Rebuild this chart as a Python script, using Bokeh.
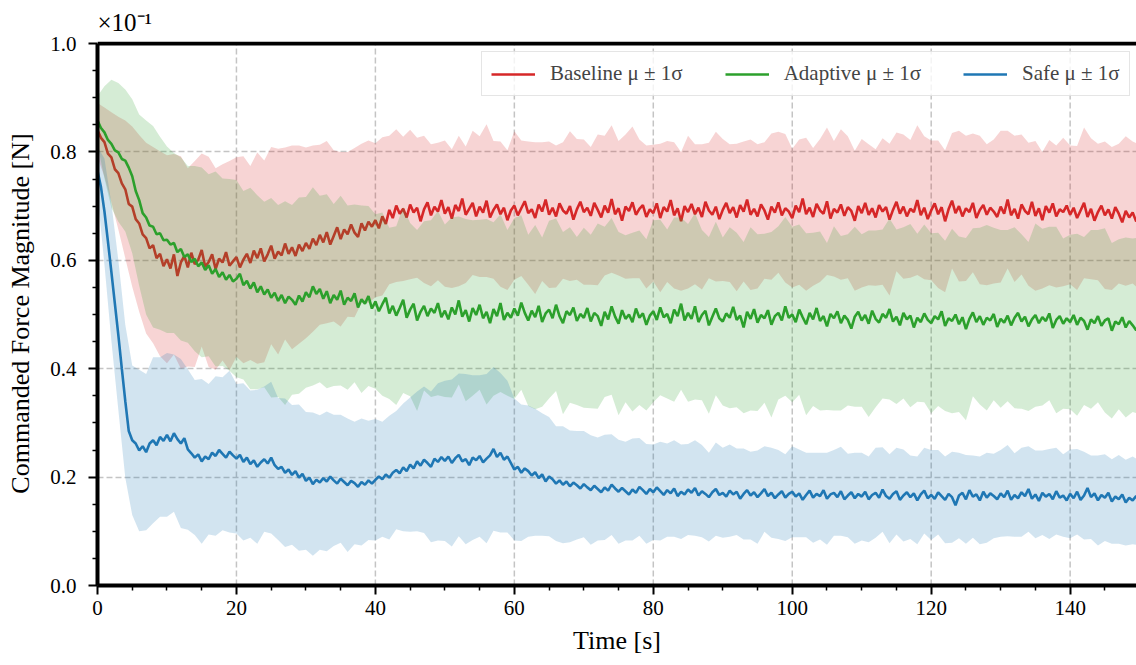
import numpy as np
from bokeh.plotting import figure
from bokeh.models import (Range1d, FixedTicker, Legend, LegendItem, Span, PrintfTickFormatter)
from bokeh.embed import file_html
from bokeh.resources import INLINE

# ---------------- data ----------------
# mean curves sampled every 0.5 s, 0 .. 150 s
time_mean = np.arange(301) * 0.5
# band (std) sampled every 1 s, 0 .. 150 s
time_band = np.arange(151) * 1.0

baseline_mean = [
    0.840, 0.826, 0.818, 0.797, 0.790, 0.768, 0.761, 0.742, 0.731, 0.704, 0.699, 0.676, 0.668, 0.648, 0.641, 0.622, 0.628, 0.604, 0.612, 0.589,
    0.602, 0.585, 0.611, 0.571, 0.596, 0.608, 0.587, 0.614, 0.593, 0.601, 0.619, 0.588, 0.597, 0.611, 0.584, 0.603, 0.596, 0.615, 0.590, 0.598,
    0.606, 0.587, 0.601, 0.612, 0.595, 0.618, 0.604, 0.622, 0.598, 0.611, 0.627, 0.603, 0.616, 0.609, 0.631, 0.612, 0.624, 0.608, 0.629, 0.617,
    0.632, 0.621, 0.640, 0.628, 0.647, 0.633, 0.652, 0.629, 0.645, 0.661, 0.639, 0.657, 0.648, 0.666, 0.651, 0.643, 0.668, 0.655, 0.671, 0.662,
    0.674, 0.659, 0.681, 0.667, 0.693, 0.678, 0.701, 0.686, 0.695, 0.679, 0.703, 0.688, 0.697, 0.672, 0.694, 0.707, 0.683, 0.699, 0.690, 0.711,
    0.686, 0.698, 0.677, 0.702, 0.691, 0.714, 0.684, 0.695, 0.706, 0.681, 0.699, 0.688, 0.710, 0.679, 0.693, 0.703, 0.685, 0.697, 0.674, 0.692,
    0.701, 0.683, 0.696, 0.709, 0.687, 0.694, 0.678, 0.703, 0.690, 0.712, 0.684, 0.697, 0.681, 0.705, 0.692, 0.686, 0.700, 0.675, 0.694, 0.708,
    0.689, 0.697, 0.682, 0.706, 0.693, 0.679, 0.701, 0.688, 0.713, 0.685, 0.696, 0.673, 0.699, 0.691, 0.707, 0.684, 0.695, 0.702, 0.680, 0.694,
    0.687, 0.705, 0.678, 0.698, 0.690, 0.711, 0.683, 0.696, 0.672, 0.700, 0.689, 0.704, 0.685, 0.697, 0.680, 0.708, 0.692, 0.684, 0.699, 0.676,
    0.693, 0.706, 0.687, 0.698, 0.679, 0.702, 0.690, 0.712, 0.684, 0.695, 0.681, 0.703, 0.692, 0.675, 0.699, 0.688, 0.707, 0.683, 0.696, 0.690,
    0.678, 0.701, 0.689, 0.714, 0.685, 0.697, 0.680, 0.704, 0.692, 0.686, 0.709, 0.677, 0.695, 0.688, 0.703, 0.682, 0.698, 0.691, 0.673, 0.700,
    0.687, 0.706, 0.684, 0.696, 0.679, 0.702, 0.690, 0.698, 0.675, 0.693, 0.708, 0.686, 0.699, 0.681, 0.695, 0.689, 0.711, 0.683, 0.697, 0.676,
    0.692, 0.705, 0.685, 0.698, 0.672, 0.694, 0.710, 0.687, 0.700, 0.681, 0.696, 0.689, 0.706, 0.678, 0.693, 0.702, 0.684, 0.697, 0.690, 0.680,
    0.699, 0.686, 0.712, 0.683, 0.695, 0.677, 0.703, 0.691, 0.685, 0.708, 0.682, 0.696, 0.674, 0.700, 0.688, 0.705, 0.681, 0.694, 0.689, 0.701,
    0.684, 0.697, 0.678, 0.692, 0.706, 0.680, 0.695, 0.673, 0.689, 0.701, 0.683, 0.694, 0.677, 0.698, 0.686, 0.670, 0.691, 0.679, 0.688, 0.672,
    0.680]

adaptive_mean = [
    0.858, 0.844, 0.836, 0.822, 0.815, 0.803, 0.799, 0.787, 0.784, 0.771, 0.755, 0.728, 0.711, 0.687, 0.679, 0.664, 0.662, 0.648, 0.650, 0.637,
    0.638, 0.629, 0.632, 0.615, 0.621, 0.606, 0.611, 0.597, 0.603, 0.589, 0.596, 0.582, 0.591, 0.575, 0.584, 0.569, 0.578, 0.564, 0.573, 0.561,
    0.566, 0.575, 0.554, 0.562, 0.548, 0.559, 0.541, 0.552, 0.537, 0.546, 0.531, 0.540, 0.525, 0.536, 0.521, 0.533, 0.527, 0.518, 0.535, 0.524,
    0.541, 0.532, 0.552, 0.538, 0.547, 0.529, 0.543, 0.521, 0.536, 0.527, 0.544, 0.518, 0.531, 0.525, 0.539, 0.513, 0.528, 0.520, 0.534, 0.511,
    0.524, 0.506, 0.519, 0.531, 0.502, 0.516, 0.498, 0.512, 0.527, 0.494, 0.509, 0.520, 0.489, 0.505, 0.516, 0.497, 0.511, 0.503, 0.521, 0.495,
    0.507, 0.491, 0.513, 0.500, 0.526, 0.496, 0.508, 0.487, 0.512, 0.499, 0.518, 0.493, 0.505, 0.484, 0.510, 0.497, 0.521, 0.490, 0.503, 0.494,
    0.511, 0.498, 0.522, 0.503, 0.489, 0.507, 0.495, 0.516, 0.486, 0.502, 0.509, 0.493, 0.518, 0.497, 0.484, 0.506, 0.499, 0.513, 0.488, 0.501,
    0.494, 0.512, 0.487, 0.503, 0.497, 0.479, 0.505, 0.491, 0.515, 0.496, 0.483, 0.508, 0.492, 0.500, 0.486, 0.511, 0.494, 0.502, 0.481, 0.498,
    0.506, 0.490, 0.513, 0.495, 0.501, 0.484, 0.509, 0.497, 0.520, 0.489, 0.503, 0.492, 0.515, 0.486, 0.499, 0.507, 0.480, 0.496, 0.511, 0.493,
    0.487, 0.502, 0.494, 0.514, 0.490, 0.498, 0.476, 0.505, 0.492, 0.510, 0.485, 0.499, 0.493, 0.508, 0.481, 0.497, 0.503, 0.489, 0.515, 0.494,
    0.500, 0.486, 0.509, 0.495, 0.482, 0.503, 0.491, 0.512, 0.488, 0.497, 0.478, 0.501, 0.493, 0.506, 0.484, 0.498, 0.490, 0.474, 0.496, 0.505,
    0.489, 0.499, 0.483, 0.507, 0.492, 0.485, 0.501, 0.494, 0.510, 0.487, 0.496, 0.480, 0.503, 0.491, 0.498, 0.476, 0.494, 0.486, 0.502, 0.490,
    0.484, 0.497, 0.491, 0.506, 0.479, 0.493, 0.488, 0.500, 0.482, 0.495, 0.473, 0.492, 0.504, 0.486, 0.497, 0.481, 0.494, 0.489, 0.501, 0.477,
    0.492, 0.485, 0.498, 0.480, 0.494, 0.503, 0.487, 0.496, 0.478, 0.491, 0.499, 0.484, 0.495, 0.488, 0.502, 0.475, 0.490, 0.497, 0.483, 0.493,
    0.486, 0.499, 0.481, 0.494, 0.488, 0.472, 0.491, 0.484, 0.497, 0.479, 0.489, 0.493, 0.470, 0.487, 0.482, 0.495, 0.476, 0.488, 0.480, 0.471,
    0.479]

safe_mean = [
    0.765, 0.735, 0.690, 0.635, 0.578, 0.520, 0.462, 0.400, 0.340, 0.285, 0.268, 0.262, 0.249, 0.257, 0.246, 0.262, 0.268, 0.259, 0.274, 0.267,
    0.278, 0.266, 0.281, 0.270, 0.262, 0.272, 0.251, 0.244, 0.236, 0.242, 0.229, 0.238, 0.233, 0.245, 0.239, 0.250, 0.243, 0.236, 0.247, 0.240,
    0.234, 0.241, 0.228, 0.236, 0.224, 0.231, 0.219, 0.227, 0.233, 0.225, 0.236, 0.222, 0.215, 0.219, 0.208, 0.214, 0.204, 0.211, 0.199, 0.206,
    0.193, 0.199, 0.187, 0.195, 0.190, 0.198, 0.192, 0.201, 0.194, 0.188, 0.197, 0.191, 0.185, 0.193, 0.189, 0.182, 0.191, 0.186, 0.194, 0.188,
    0.195, 0.201, 0.196, 0.205, 0.199, 0.208, 0.213, 0.207, 0.218, 0.211, 0.223, 0.216, 0.229, 0.221, 0.232, 0.226, 0.219, 0.234, 0.228, 0.237,
    0.230, 0.238, 0.226, 0.235, 0.241, 0.229, 0.233, 0.222, 0.236, 0.231, 0.239, 0.227, 0.234, 0.240, 0.252, 0.237, 0.245, 0.232, 0.238, 0.226,
    0.214, 0.219, 0.208, 0.216, 0.211, 0.203, 0.209, 0.198, 0.205, 0.192, 0.201, 0.196, 0.188, 0.194, 0.186, 0.192, 0.183, 0.190, 0.185, 0.179,
    0.187, 0.181, 0.176, 0.184, 0.178, 0.172, 0.181, 0.175, 0.186, 0.179, 0.173, 0.180, 0.174, 0.168, 0.177, 0.171, 0.182, 0.176, 0.169, 0.178,
    0.172, 0.181, 0.174, 0.167, 0.176, 0.170, 0.179, 0.165, 0.173, 0.168, 0.177, 0.171, 0.180, 0.166, 0.174, 0.169, 0.163, 0.172, 0.178, 0.167,
    0.171, 0.164, 0.175, 0.168, 0.173, 0.160, 0.169, 0.176, 0.166, 0.172, 0.163, 0.170, 0.178, 0.165, 0.171, 0.161, 0.168, 0.174, 0.162, 0.169,
    0.173, 0.164, 0.170, 0.158, 0.167, 0.175, 0.162, 0.169, 0.165, 0.176, 0.160, 0.168, 0.171, 0.163, 0.174, 0.159, 0.166, 0.172, 0.161, 0.169,
    0.164, 0.173, 0.159, 0.167, 0.171, 0.162, 0.177, 0.165, 0.160, 0.169, 0.174, 0.158, 0.166, 0.172, 0.163, 0.170, 0.157, 0.168, 0.175, 0.161,
    0.167, 0.160, 0.172, 0.165, 0.158, 0.169, 0.163, 0.148, 0.166, 0.171, 0.159, 0.176, 0.164, 0.168, 0.157, 0.173, 0.162, 0.170, 0.165, 0.159,
    0.170, 0.163, 0.175, 0.158, 0.167, 0.161, 0.172, 0.165, 0.178, 0.160, 0.168, 0.156, 0.171, 0.164, 0.169, 0.159, 0.174, 0.162, 0.166, 0.157,
    0.169, 0.161, 0.173, 0.158, 0.166, 0.180, 0.163, 0.170, 0.157, 0.167, 0.162, 0.171, 0.155, 0.164, 0.159, 0.168, 0.153, 0.162, 0.157, 0.165,
    0.152]

baseline_std = [
    0.050, 0.064, 0.083, 0.104, 0.127, 0.148, 0.163, 0.176, 0.181, 0.189,
    0.192, 0.185, 0.196, 0.183, 0.190, 0.178, 0.194, 0.186, 0.181, 0.193,
    0.184, 0.191, 0.179, 0.195, 0.186, 0.182, 0.190, 0.177, 0.188, 0.183,
    0.176, 0.172, 0.166, 0.168, 0.158, 0.161, 0.152, 0.156, 0.147, 0.150,
    0.142, 0.146, 0.137, 0.141, 0.133, 0.138, 0.129, 0.136, 0.131, 0.127,
    0.135, 0.128, 0.139, 0.126, 0.133, 0.130, 0.141, 0.127, 0.134, 0.129,
    0.137, 0.125, 0.132, 0.140, 0.128, 0.135, 0.131, 0.126, 0.138, 0.130,
    0.134, 0.127, 0.139, 0.129, 0.136, 0.124, 0.133, 0.140, 0.128, 0.132,
    0.126, 0.137, 0.130, 0.135, 0.128, 0.141, 0.129, 0.134, 0.125, 0.138,
    0.131, 0.127, 0.136, 0.129, 0.139, 0.133, 0.126, 0.135, 0.130, 0.137,
    0.128, 0.134, 0.141, 0.127, 0.132, 0.136, 0.125, 0.139, 0.131, 0.129,
    0.137, 0.130, 0.126, 0.135, 0.140, 0.128, 0.133, 0.127, 0.138, 0.132,
    0.129, 0.136, 0.131, 0.125, 0.139, 0.134, 0.128, 0.137, 0.130, 0.133,
    0.140, 0.127, 0.135, 0.129, 0.132, 0.138, 0.126, 0.134, 0.131, 0.137,
    0.128, 0.133, 0.139, 0.130, 0.126, 0.136, 0.132, 0.129, 0.138, 0.131,
    0.134]

adaptive_std = [
    0.045, 0.085, 0.118, 0.128, 0.131, 0.142, 0.158, 0.179, 0.186, 0.178,
    0.172, 0.166, 0.169, 0.163, 0.171, 0.175, 0.168, 0.180, 0.173, 0.177,
    0.182, 0.174, 0.186, 0.179, 0.171, 0.184, 0.177, 0.188, 0.175, 0.181,
    0.176, 0.183, 0.172, 0.179, 0.168, 0.175, 0.170, 0.164, 0.173, 0.166,
    0.161, 0.169, 0.158, 0.165, 0.172, 0.160, 0.167, 0.156, 0.163, 0.170,
    0.159, 0.166, 0.155, 0.168, 0.162, 0.157, 0.171, 0.160, 0.164, 0.153,
    0.167, 0.161, 0.158, 0.170, 0.156, 0.164, 0.159, 0.168, 0.162, 0.155,
    0.166, 0.160, 0.171, 0.157, 0.163, 0.169, 0.154, 0.165, 0.161, 0.158,
    0.168, 0.162, 0.156, 0.170, 0.159, 0.164, 0.172, 0.157, 0.163, 0.160,
    0.155, 0.167, 0.161, 0.158, 0.169, 0.163, 0.156, 0.171, 0.160, 0.165,
    0.162, 0.157, 0.168, 0.160, 0.165, 0.154, 0.170, 0.161, 0.158, 0.166,
    0.159, 0.172, 0.163, 0.156, 0.167, 0.161, 0.158, 0.169, 0.155, 0.164,
    0.166, 0.160, 0.157, 0.170, 0.162, 0.168, 0.155, 0.163, 0.171, 0.159,
    0.164, 0.158, 0.167, 0.161, 0.156, 0.169, 0.163, 0.160, 0.172, 0.157,
    0.161, 0.168, 0.155, 0.165, 0.159, 0.170, 0.162, 0.157, 0.166, 0.160,
    0.163]

safe_std = [
    0.045, 0.098, 0.127, 0.138, 0.141, 0.138, 0.149, 0.144, 0.153, 0.147,
    0.151, 0.145, 0.156, 0.148, 0.143, 0.152, 0.139, 0.147, 0.141, 0.149,
    0.138, 0.145, 0.136, 0.142, 0.134, 0.140, 0.131, 0.137, 0.129, 0.135,
    0.127, 0.132, 0.124, 0.129, 0.121, 0.118, 0.123, 0.113, 0.117, 0.110,
    0.112, 0.106, 0.114, 0.109, 0.118, 0.124, 0.129, 0.135, 0.139, 0.145,
    0.148, 0.154, 0.150, 0.157, 0.152, 0.149, 0.156, 0.151, 0.147, 0.140,
    0.131, 0.126, 0.121, 0.117, 0.113, 0.110, 0.106, 0.108, 0.103, 0.100,
    0.098, 0.101, 0.095, 0.097, 0.093, 0.096, 0.091, 0.094, 0.090, 0.092,
    0.088, 0.091, 0.086, 0.089, 0.087, 0.084, 0.088, 0.085, 0.082, 0.086,
    0.083, 0.085, 0.080, 0.084, 0.081, 0.086, 0.079, 0.083, 0.082, 0.080,
    0.084, 0.081, 0.078, 0.083, 0.080, 0.085, 0.079, 0.082, 0.077, 0.084,
    0.081, 0.079, 0.083, 0.078, 0.082, 0.080, 0.085, 0.077, 0.081, 0.079,
    0.083, 0.078, 0.080, 0.084, 0.079, 0.082, 0.076, 0.081, 0.083, 0.078,
    0.080, 0.084, 0.077, 0.082, 0.079, 0.081, 0.078, 0.083, 0.080, 0.076,
    0.082, 0.079, 0.081, 0.077, 0.083, 0.080, 0.078, 0.082, 0.079, 0.081,
    0.078]

series_labels = ["Baseline \u03bc \u00b1 1\u03c3", "Adaptive \u03bc \u00b1 1\u03c3", "Safe \u03bc \u00b1 1\u03c3"]
series_colors = ["#d62728", "#2ca02c", "#1f77b4"]

y_ticks = [0.0, 0.2, 0.4, 0.6, 0.8, 1.0]
y_minor = [0.05, 0.1, 0.15, 0.25, 0.3, 0.35, 0.45, 0.5, 0.55, 0.65, 0.7, 0.75, 0.85, 0.9, 0.95]
x_ticks = [0, 20, 40, 60, 80, 100, 120, 140]
x_minor = [5, 10, 15, 25, 30, 35, 45, 50, 55, 65, 70, 75, 85, 90, 95, 105, 110, 115, 125, 130, 135, 145]
y_min, y_max = 0.0, 1.0
offset_text = "\u00d710\u207b\u00b9"

FONT = "Liberation Serif"

# ---------------- figure ----------------
p = figure(width=1136, height=665, output_backend="svg", toolbar_location=None,
           title=offset_text,
           x_range=Range1d(0, 149.55), y_range=Range1d(0, 1.0037),
           min_border_left=97, min_border_right=0, min_border_top=41, min_border_bottom=80)
p.outline_line_color = None
p.background_fill_color = "white"
p.border_fill_color = "white"

# offset text (x10^-1) as a left aligned title above the axes
p.title.align = "left"
p.title.offset = 0
p.title.standoff = 12
p.title.text_font = FONT
p.title.text_font_size = "25px"
p.title.text_font_style = "normal"
p.title.text_color = "black"

# vertical dashed grid lines (only inside the axes box)
p.segment(x0=x_ticks[1:], y0=[y_min] * (len(x_ticks) - 1), x1=x_ticks[1:], y1=[y_max] * (len(x_ticks) - 1),
          line_color="#c4c4c4", line_width=1.5, line_dash="6 3")

line_renderers = []
for mean, std, col in [(baseline_mean, baseline_std, series_colors[0]),
                       (adaptive_mean, adaptive_std, series_colors[1]),
                       (safe_mean, safe_std, series_colors[2])]:
    m = np.array(mean)
    s = np.array(std)
    m_band = m[::2]
    p.varea(x=time_band, y1=m_band - s, y2=m_band + s, fill_color=col, fill_alpha=0.2)
    r = p.line(time_mean, m, line_color=col, line_width=2.6)
    line_renderers.append(r)

# axes
xa = p.xaxis[0]
ya = p.yaxis[0]
xa.ticker = FixedTicker(ticks=x_ticks, minor_ticks=x_minor)
ya.ticker = FixedTicker(ticks=y_ticks, minor_ticks=y_minor)
ya.bounds = (y_min, y_max)
ya.formatter = PrintfTickFormatter(format="%.1f")
for ax in (xa, ya):
    ax.axis_line_width = 4
    ax.axis_line_color = "black"
    ax.major_tick_out = 9
    ax.major_tick_in = 0
    ax.minor_tick_out = 5
    ax.minor_tick_in = 0
    ax.major_tick_line_width = 2
    ax.minor_tick_line_width = 1.5
    ax.major_tick_line_color = "black"
    ax.minor_tick_line_color = "black"
    ax.major_label_text_font = FONT
    ax.major_label_text_font_size = "21px"
    ax.major_label_text_color = "black"
    ax.axis_label_text_font = FONT
    ax.axis_label_text_font_size = "26px"
    ax.axis_label_text_font_style = "normal"
    ax.axis_label_text_color = "black"
xa.axis_label = "Time [s]"
ya.axis_label = "Commanded Force Magnitude [N]"
xa.major_label_standoff = 6
ya.major_label_standoff = 12
xa.axis_label_standoff = 8
ya.axis_label_standoff = 12

# top spine
p.add_layout(Span(location=y_max, dimension="width", line_color="black", line_width=4))

# horizontal dashed grid
p.xgrid.visible = False
p.ygrid.ticker = FixedTicker(ticks=y_ticks[1:-1])
p.ygrid.grid_line_color = "#c4c4c4"
p.ygrid.grid_line_width = 1.5
p.ygrid.grid_line_dash = "6 3"

# legend
legend = Legend(items=[LegendItem(label=series_labels[i], renderers=[line_renderers[i]]) for i in range(3)],
                orientation="horizontal",
                label_text_font=FONT, label_text_font_size="21px",
                glyph_width=44, glyph_height=20, label_standoff=15, spacing=42,
                padding=9, margin=0,
                border_line_color="#cccccc", border_line_width=1.5,
                background_fill_color="white", background_fill_alpha=0.8)
legend.location = (384, 489)
p.add_layout(legend)

open("out.html", "w").write(file_html(p, INLINE))
